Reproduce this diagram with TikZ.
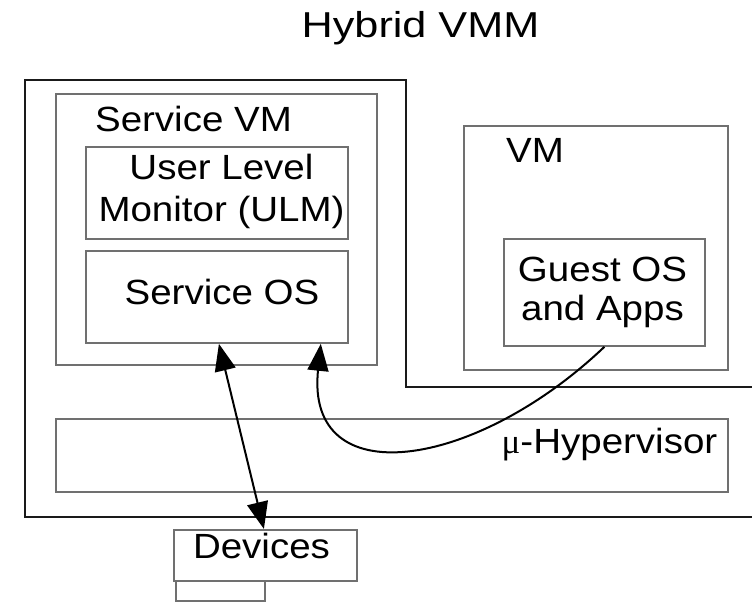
\documentclass[tikz,border=0pt]{standalone}
\usepackage{fontspec}
\setmainfont{Liberation Sans}[FakeStretch=1.1]
\newfontfamily\titlefont{Liberation Sans}[FakeStretch=1.2]
\usetikzlibrary{arrows.meta}
\definecolor{boxgray}{HTML}{707070}
\definecolor{framedark}{HTML}{1A1A1A}
\begin{document}
\begin{tikzpicture}[x=1pt,y=-1pt,
  box/.style 2 args={draw=boxgray, line width=1.8pt, inner sep=0pt,
    anchor=north west, minimum width=#1pt, minimum height=#2pt},
  frame/.style={draw=framedark, line width=2.6pt},
  lbl/.style={anchor=base, inner sep=0pt, font=\fontsize{35}{40}\selectfont},
  link/.style={line width=2pt, black}
]
\useasboundingbox (0,0) rectangle (752,602);

% outer hybrid VMM frame (L-shaped, open to the right)
\draw[frame] (756,387) -- (406,387) -- (406,80) -- (25,80) -- (25,517) -- (756,517);

% service VM and its parts
\node[box={321}{271}] (svm) at (55,93) {};
\node[box={262}{92}] (ulm) at (85,146) {};
\node[box={262}{92}] (sos) at (85,250) {};

% guest VM
\node[box={264}{244}] (vm) at (463,125) {};
\node[box={201}{107}] (guest) at (503,238) {};

% hypervisor layer
\node[box={672}{73}] (hyp) at (55,418) {};

% devices below the frame
\node[box={183}{51}] (dev) at (173,529) {};
\node[box={89}{20}] (dev2) at (175,580) {};

% labels
\node[lbl, font=\titlefont\fontsize{36}{40}\selectfont] (title) at (420.5,38) {Hybrid VMM};
\node[lbl] (svmlbl) at (193.5,131.5) {Service VM};
\node[lbl] (ulm1) at (221.5,179.5) {User Level};
\node[lbl] (ulm2) at (221.5,221.5) {Monitor (ULM)};
\node[lbl] (soslbl) at (222,304) {Service OS};
\node[lbl] (vmlbl) at (535,162.5) {VM};
\node[lbl] (guest1) at (602.5,281.5) {Guest OS};
\node[lbl] (guest2) at (602.5,320) {and Apps};
\node[lbl] (hyplbl) at (609.5,453) {{\fontspec{Liberation Serif}μ}-Hypervisor};
\node[lbl] (devlbl) at (261.5,558) {Devices};

% connectors
\draw[link, {Triangle[length=27pt,width=21pt]}-{Triangle[length=27pt,width=21pt]}]
  ([xshift=2pt]sos.south) -- ([xshift=-1.5pt]dev.north);
\draw[link, -{Triangle[length=27pt,width=21pt]}]
  (guest.south) .. controls (475,470) and (305,495) .. ([xshift=-28pt]sos.south east);
\end{tikzpicture}
\end{document}
